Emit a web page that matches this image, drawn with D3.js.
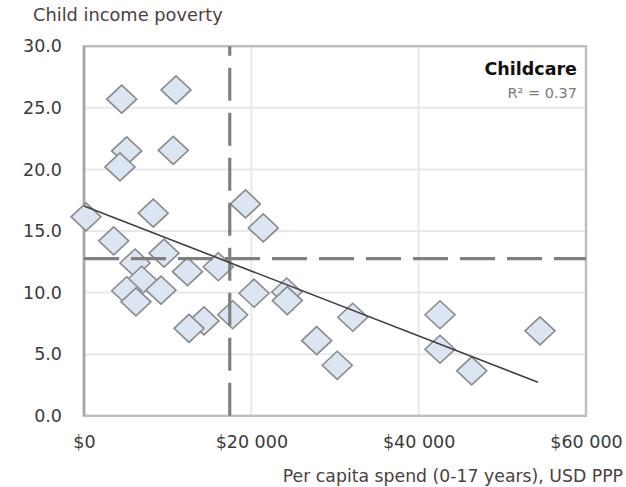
<!DOCTYPE html>
<html><head><meta charset="utf-8">
<script src="https://cdn.jsdelivr.net/npm/d3@7"></script>
<style>
body{margin:0;background:#fff;}
text{font-family:"DejaVu Sans",sans-serif;}
</style></head>
<body><svg id="c" width="626" height="487"></svg>
<script>
// Data (spend in USD PPP, child income poverty %)
const spend = [4510,11000,5100,4300,10670,240,8280,19300,21430,3550,9560,6100,12370,16050,6900,5100,9200,6210,20320,24230,24300,17770,14340,12550,32120,27810,30270,42550,42550,46340,54500];
const poverty = [25.7,26.45,21.5,20.2,21.55,16.15,16.45,17.2,15.25,14.2,13.2,12.4,11.7,12.1,11.0,10.15,10.2,9.25,9.95,10.05,9.35,8.2,7.7,7.1,8.0,6.1,4.1,8.2,5.4,3.65,6.9];
const trendX = [0,54260];
const trendY = [17.03,2.72];
const avgSpend = 17420;
const avgPoverty = 12.75;
const xTicks = [0,20000,40000,60000];
const yTicks = [0,5,10,15,20,25,30];
const seriesName = "Childcare";
const r2Label = "R² = 0.37";
const yTitle = "Child income poverty";
const xTitle = "Per capita spend (0-17 years), USD PPP";

const svg = d3.select("#c");
const x = d3.scaleLinear().domain([0,60000]).range([84,586]);
const y = d3.scaleLinear().domain([0,30]).range([415.8,46.2]);

// gridlines
const g = svg.append("g");
g.selectAll(".hg").data(yTicks.filter(v=>v>0&&v<30)).join("line")
  .attr("x1",x(0)).attr("x2",x(60000)).attr("y1",d=>y(d)).attr("y2",d=>y(d))
  .attr("stroke","#e8e8e8").attr("stroke-width",2);
g.selectAll(".vg").data(xTicks.filter(v=>v>0&&v<60000)).join("line")
  .attr("y1",y(0)).attr("y2",y(30)).attr("x1",d=>x(d)).attr("x2",d=>x(d))
  .attr("stroke","#e8e8e8").attr("stroke-width",2);

// border
svg.append("rect").attr("x",x(0)).attr("y",y(30)).attr("width",x(60000)-x(0)).attr("height",y(0)-y(30))
  .attr("fill","none").attr("stroke","#bfbfbf").attr("stroke-width",2.5);
svg.append("line").attr("x1",x(0)).attr("x2",x(0)).attr("y1",y(30)).attr("y2",y(0))
  .attr("stroke","#a6a6a6").attr("stroke-width",2.5);

// axes
const yAxis = d3.axisLeft(y).tickValues(yTicks).tickFormat(d3.format(".1f")).tickSize(0).tickPadding(22);
const ya = svg.append("g").attr("transform",`translate(${x(0)},0)`).call(yAxis);
ya.select(".domain").remove();
ya.selectAll("text").attr("font-size",17.5).attr("fill","#3a3a3a").attr("font-family","DejaVu Sans");

const fmtX = d => "$" + (d===0 ? "0" : d3.format(",")(d).replace(",", " "));
const xAxis = d3.axisBottom(x).tickValues(xTicks).tickFormat(fmtX).tickSize(0).tickPadding(20);
const xa = svg.append("g").attr("transform",`translate(0,${y(0)})`).call(xAxis);
xa.select(".domain").remove();
xa.selectAll("text").attr("font-size",17.5).attr("fill","#3a3a3a").attr("font-family","DejaVu Sans");

// points
const pts = spend.map((s,i)=>({s, p:poverty[i]}));
const diamond = d => { const cx=x(d.s), cy=y(d.p), w=15, h=14;
  return `M${cx-w},${cy}L${cx},${cy-h}L${cx+w},${cy}L${cx},${cy+h}Z`; };
svg.append("g").selectAll("path").data(pts).join("path")
  .attr("d",diamond).attr("fill","#dce6f2").attr("stroke","#8a8a8a").attr("stroke-width",1.6);

// average dashed lines
svg.append("line").attr("x1",x(avgSpend)).attr("x2",x(avgSpend)).attr("y1",y(0)).attr("y2",y(30))
  .attr("stroke","#7f7f7f").attr("stroke-width",3.2).attr("stroke-dasharray","33,12");
svg.append("line").attr("x1",x(0)).attr("x2",x(60000)).attr("y1",y(avgPoverty)).attr("y2",y(avgPoverty))
  .attr("stroke","#7f7f7f").attr("stroke-width",3.2).attr("stroke-dasharray","35,12");

// trend line
svg.append("path").datum(trendX.map((v,i)=>[v,trendY[i]]))
  .attr("d",d3.line().x(d=>x(d[0])).y(d=>y(d[1])))
  .attr("fill","none").attr("stroke","#3f3f3f").attr("stroke-width",1.6);

// labels
svg.append("text").attr("x",577).attr("y",75).attr("text-anchor","end")
  .attr("font-size",17.5).attr("font-weight","bold").attr("fill","#111").text(seriesName);
svg.append("text").attr("x",577).attr("y",98).attr("text-anchor","end")
  .attr("font-size",14.5).attr("fill","#7a7a7a").text(r2Label);
svg.append("text").attr("x",33).attr("y",20.5)
  .attr("font-size",17.8).attr("fill","#4a4040").text(yTitle);
svg.append("text").attr("x",623).attr("y",482).attr("text-anchor","end")
  .attr("font-size",17.3).attr("fill","#4a4040").text(xTitle);
</script></body></html>
